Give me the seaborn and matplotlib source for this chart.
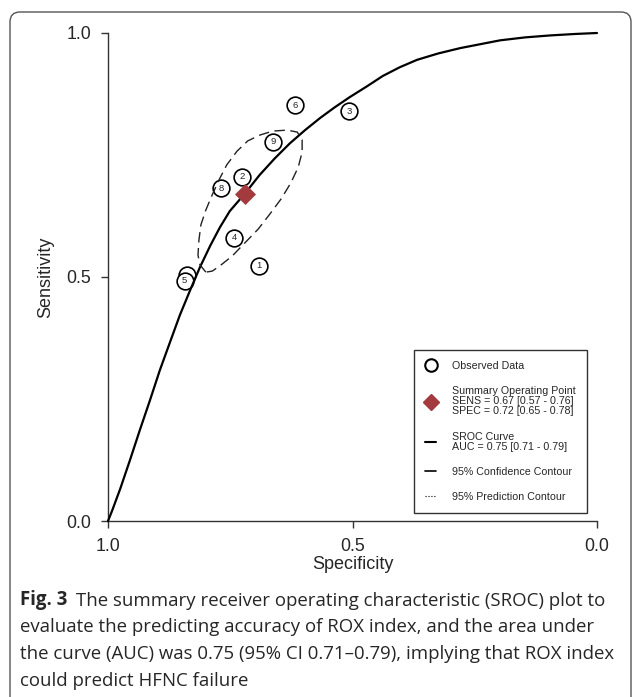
import matplotlib
matplotlib.use("Agg")
import matplotlib.pyplot as plt
import seaborn as sns
from matplotlib.lines import Line2D
from matplotlib.patches import FancyBboxPatch

# observed studies (specificity, sensitivity)
study_ids = [1, 2, 3, 4, 5, 6, 7, 8, 9]
study_spec = [0.691, 0.726, 0.507, 0.742, 0.843, 0.618, 0.839, 0.769, 0.663]
study_sens = [0.523, 0.705, 0.840, 0.580, 0.492, 0.852, 0.504, 0.682, 0.777]
hidden_labels = [7]  # label of study 7 sits under circle 5

# summary operating point
summary_spec = [0.72]
summary_sens = [0.67]

# SROC curve
sroc_spec = [1.000, 0.992, 0.975, 0.955, 0.935, 0.914, 0.894, 0.873, 0.853, 0.832,
             0.812, 0.791, 0.771, 0.751, 0.720, 0.690, 0.659, 0.628, 0.597, 0.566,
             0.536, 0.505, 0.470, 0.438, 0.403, 0.368, 0.325, 0.280, 0.239, 0.198,
             0.147, 0.096, 0.045, 0.000]
sroc_sens = [0.000, 0.020, 0.066, 0.125, 0.186, 0.248, 0.309, 0.367, 0.422, 0.473,
             0.520, 0.564, 0.602, 0.635, 0.671, 0.709, 0.743, 0.774, 0.801, 0.826,
             0.848, 0.869, 0.891, 0.912, 0.930, 0.945, 0.958, 0.969, 0.977, 0.985,
             0.991, 0.995, 0.998, 1.000]

# 95% confidence contour
conf_spec = [0.800, 0.812, 0.816, 0.814, 0.810, 0.800, 0.787, 0.773, 0.757, 0.736,
             0.714, 0.689, 0.663, 0.634, 0.613, 0.603, 0.603, 0.611, 0.626, 0.646,
             0.669, 0.693, 0.720, 0.746, 0.771, 0.787, 0.800]
conf_sens = [0.510, 0.525, 0.545, 0.576, 0.607, 0.637, 0.668, 0.699, 0.730, 0.758,
             0.779, 0.791, 0.799, 0.801, 0.797, 0.781, 0.756, 0.725, 0.693, 0.660,
             0.629, 0.598, 0.570, 0.543, 0.523, 0.512, 0.510]

legend_labels = [
    "Observed Data",
    "Summary Operating Point\nSENS = 0.67 [0.57 - 0.76]\nSPEC = 0.72 [0.65 - 0.78]",
    "SROC Curve\nAUC = 0.75 [0.71 - 0.79]",
    "95% Confidence Contour",
    "95% Prediction Contour",
]

caption_lines = [
    "The summary receiver operating characteristic (SROC) plot to",
    "evaluate the predicting accuracy of ROX index, and the area under",
    "the curve (AUC) was 0.75 (95% CI 0.71\u20130.79), implying that ROX index",
    "could predict HFNC failure",
]

sns.set_style("ticks")
plt.rcParams["font.family"] = ["Liberation Sans", "DejaVu Sans"]

red = "#A33A3E"
W, H = 632, 697
fig = plt.figure(figsize=(W / 100, H / 100), dpi=100)
ax = fig.add_axes([108 / W, 1 - 521 / H, 489 / W, 488 / H])

# study circles, drawn so that 5 sits on top of 7
n = len(study_ids)
for k, i in enumerate(reversed(range(n))):
    z = 2 + k * 0.01
    sns.scatterplot(x=[study_spec[i]], y=[study_sens[i]], marker="o", s=145,
                    color="white", edgecolor="black", linewidth=1.2, ax=ax, zorder=z)
    if study_ids[i] not in hidden_labels:
        ax.text(study_spec[i], study_sens[i], str(study_ids[i]), ha="center",
                va="center", fontsize=6.8, zorder=z + 0.005)

sns.lineplot(x=sroc_spec, y=sroc_sens, sort=False, estimator=None, color="black",
             lw=1.6, ax=ax, zorder=5, clip_on=False)
sns.lineplot(x=conf_spec, y=conf_sens, sort=False, estimator=None, color="#222222",
             lw=1.0, ls=(0, (7.5, 4)), ax=ax, zorder=5)
sns.scatterplot(x=summary_spec, y=summary_sens, marker="D", s=115, color=red,
                edgecolor=red, linewidth=0, ax=ax, zorder=6)

ax.set_xlim(1, 0)
ax.set_ylim(0, 1)
ax.set_xticks([1.0, 0.5, 0.0], ["1.0", "0.5", "0.0"])
ax.set_yticks([0.0, 0.5, 1.0], ["0.0", "0.5", "1.0"])
sns.despine(ax=ax)
for s in ["left", "bottom"]:
    ax.spines[s].set_color("#333333")
    ax.spines[s].set_linewidth(1.0)
ax.tick_params(length=5, width=1, pad=7, labelsize=12.8, color="#333333")
ax.set_xlabel("Specificity", fontsize=13, labelpad=1)
ax.set_ylabel("Sensitivity", fontsize=13, labelpad=9)

handles = [
    Line2D([], [], marker="o", ls="none", ms=9, mfc="white", mec="black", mew=1.5),
    Line2D([], [], marker="D", ls="none", ms=8, color=red),
    Line2D([], [], color="black", lw=1.5),
    Line2D([], [], color="black", lw=1.2),
    Line2D([], [], color="black", lw=0.8, ls=":"),
]
leg = ax.legend(handles, legend_labels, loc="upper left",
                bbox_to_anchor=(414 / W, 1 - 350 / H), bbox_transform=fig.transFigure,
                frameon=True, fancybox=False, edgecolor="black", fontsize=7.7,
                handlelength=1.0, handletextpad=1.5, labelspacing=1.42,
                borderpad=1.05, borderaxespad=0)
leg.get_frame().set_linewidth(1.0)
for t in leg.get_texts():
    t.set_linespacing(1.0)

# rounded frame around the figure
fig.add_artist(FancyBboxPatch((0.10, -0.2), 6.21, 7.05,
                              boxstyle="round,pad=0,rounding_size=0.1",
                              transform=fig.dpi_scale_trans, fill=False,
                              ec="#555555", lw=1.0))

# caption
cap_font = ["Open Sans", "DejaVu Sans"]
cap_size = 13.4
t1 = fig.text(20 / W, 1 - 605 / H, "Fig. 3", fontsize=cap_size, fontweight="bold",
              family=cap_font, va="baseline")
ax.annotate(caption_lines[0], xy=(1, 0), xycoords=t1, xytext=(6, 0),
            textcoords="offset points", fontsize=cap_size, family=cap_font,
            va="bottom", annotation_clip=False)
for k, line in enumerate(caption_lines[1:]):
    fig.text(20 / W, 1 - (605 + 27 * (k + 1)) / H, line, fontsize=cap_size,
             family=cap_font, va="baseline")

fig.savefig("out.png", dpi=100)
